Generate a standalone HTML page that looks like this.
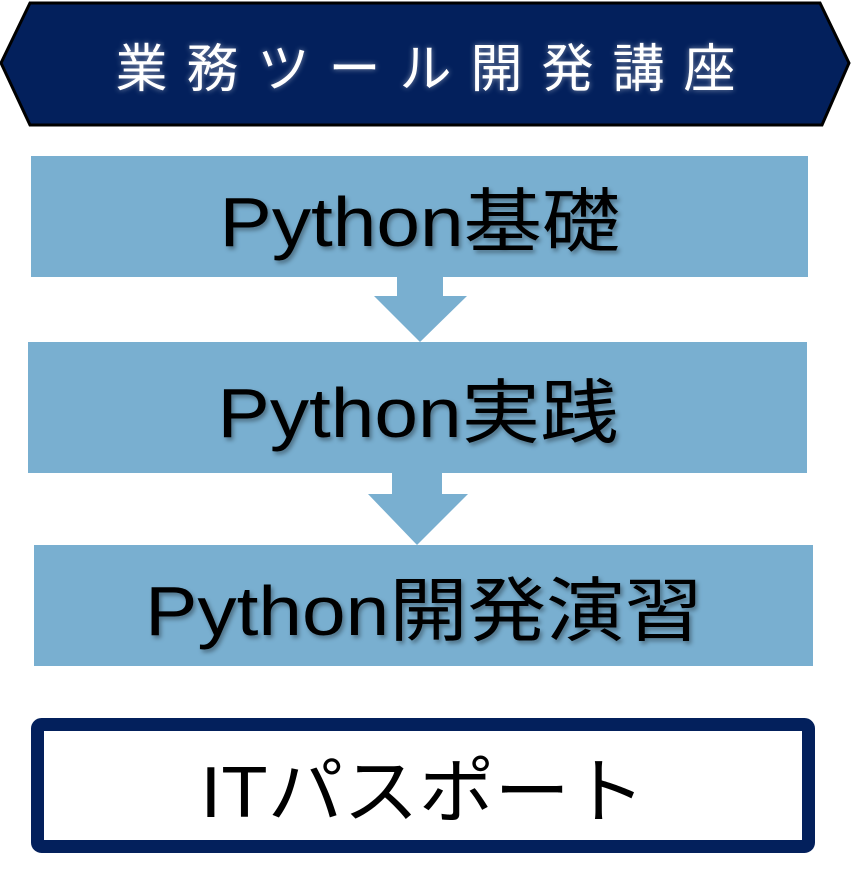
<!DOCTYPE html>
<html><head><meta charset="utf-8"><style>
body{margin:0;width:851px;height:875px;background:#fff;position:relative;overflow:hidden;font-family:"Liberation Sans","Noto Sans CJK JP",sans-serif}
.abs{position:absolute}
.box{position:absolute;background:#79afd0;display:flex;align-items:center;justify-content:center;color:#000;text-shadow:2px 3px 4px rgba(0,0,0,.35)}
.box span{display:inline-block;font-size:70px;transform:scaleX(1.12)}
</style></head><body>
<svg class="abs" style="left:0;top:0" width="851" height="875">
<polygon points="1,63 30,3 820,3 849,63 822,125 30,125" fill="#03205c" stroke="#000" stroke-width="3"/>
<polygon points="397,276 443,276 443,296 467,296 420,342 374,296 397,296" fill="#79afd0"/>
<polygon points="392,472 442,472 442,494 468,494 417,545 368,494 392,494" fill="#79afd0"/>
<rect x="37.5" y="724.5" width="771" height="122" rx="4" fill="#fff" stroke="#03205c" stroke-width="13"/>
</svg>
<div class="abs" style="left:0;top:3px;width:851px;height:122px;display:flex;align-items:center;justify-content:center;color:#fff;font-size:52px;letter-spacing:19px;text-indent:19px;text-shadow:0 0 6px rgba(255,255,255,.5)">業務ツール開発講座</div>
<div class="box" style="left:31px;top:156px;width:777px;height:121px"><span>Python基礎</span></div>
<div class="box" style="left:28px;top:342px;width:779px;height:131px"><span>Python実践</span></div>
<div class="box" style="left:34px;top:545px;width:779px;height:121px"><span>Python開発演習</span></div>
<div class="abs" style="left:31px;top:718px;width:784px;height:135px;display:flex;align-items:center;justify-content:center;color:#000"><span style="display:inline-block;font-size:72px;transform:scaleX(1.05)">ITパスポート</span></div>
</body></html>
